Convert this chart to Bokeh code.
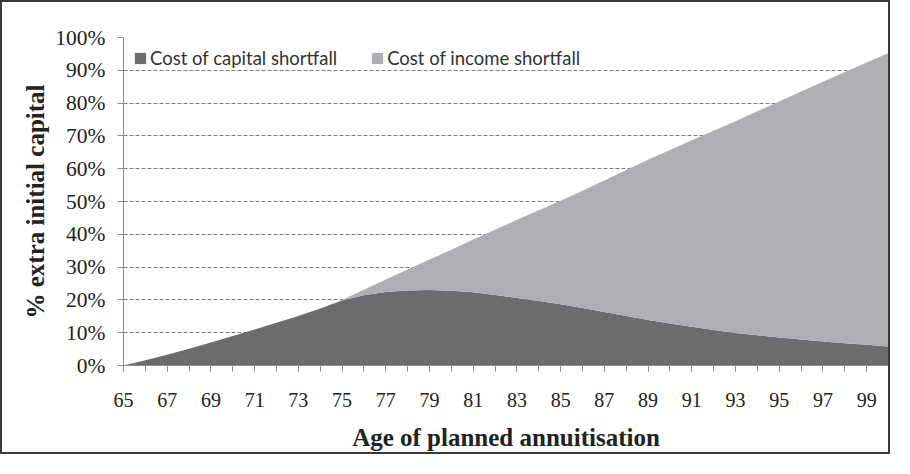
from bokeh.plotting import figure
from bokeh.models import FixedTicker, ColumnDataSource, Legend
from bokeh.embed import file_html
from bokeh.resources import INLINE

# ---- data ----
ages = list(range(65, 101))
capital = [0.0, 1.6, 3.3, 5.1, 7.0, 9.0, 11.0, 13.0, 15.1, 17.4,
           19.8, 21.4, 22.4, 22.9, 23.0, 22.8, 22.3, 21.5, 20.6, 19.7,
           18.7, 17.5, 16.3, 15.1, 13.9, 12.8, 11.8, 10.8, 9.9, 9.2,
           8.5, 7.9, 7.3, 6.8, 6.3, 5.8]
income = [0.0, 0.0, 0.0, 0.0, 0.0, 0.0, 0.0, 0.0, 0.0, 0.0,
          0.2, 1.7, 3.8, 6.4, 9.3, 12.5, 16.1, 19.9, 23.8, 27.6,
          31.5, 35.8, 40.1, 44.5, 48.8, 52.9, 56.9, 60.8, 64.6, 68.3,
          72.0, 75.6, 79.2, 82.7, 86.1, 89.5]
series_names = ["Cost of capital shortfall", "Cost of income shortfall"]
y_ticks = [0, 10, 20, 30, 40, 50, 60, 70, 80, 90, 100]
y_tick_labels = ["0%", "10%", "20%", "30%", "40%", "50%", "60%", "70%", "80%", "90%", "100%"]
x_label_ticks = list(range(65, 101, 2))
x_title = "Age of planned annuitisation"
y_title = "% extra initial capital"

DARK = "#6c6c6e"
LIGHT = "#aeafb2"
SERIF = "Liberation Serif"

source = ColumnDataSource(data=dict(age=ages, capital=capital, income=income))

p = figure(width=890, height=454, output_backend="svg", toolbar_location=None,
           x_range=(65, 100), y_range=(0, 100),
           min_border_left=121, min_border_right=4, min_border_top=35, min_border_bottom=91)
p.styles = {"border": "2px solid #3a3a3a"}
p.outline_line_color = None
p.background_fill_color = "white"
p.border_fill_color = "white"

rs = p.varea_stack(["capital", "income"], x="age", color=[DARK, LIGHT], source=source)

# axes
xa = p.xaxis[0]
xa.ticker = FixedTicker(ticks=x_label_ticks, minor_ticks=ages)
xa.axis_line_color = "#8c8c8c"
xa.major_tick_line_color = "#8c8c8c"
xa.minor_tick_line_color = "#8c8c8c"
xa.major_tick_out = 6
xa.major_tick_in = 0
xa.minor_tick_out = 6
xa.minor_tick_in = 0
xa.major_label_text_font = SERIF
xa.major_label_text_font_size = "20px"
xa.major_label_text_color = "#222222"
xa.major_label_standoff = 21
xa.axis_label = x_title
xa.axis_label_text_font = SERIF
xa.axis_label_text_font_style = "bold"
xa.axis_label_text_font_size = "25px"
xa.axis_label_text_color = "#222222"
xa.axis_label_standoff = 14

ya = p.yaxis[0]
ya.ticker = FixedTicker(ticks=y_ticks, minor_ticks=[])
ya.major_label_overrides = {t: l for t, l in zip(y_ticks, y_tick_labels)}
ya.axis_line_color = "#8c8c8c"
ya.major_tick_line_color = "#8c8c8c"
ya.major_tick_out = 6
ya.major_tick_in = 0
ya.minor_tick_line_color = None
ya.major_label_text_font = SERIF
ya.major_label_text_font_size = "21.5px"
ya.major_label_text_color = "#222222"
ya.major_label_standoff = 12
ya.axis_label = y_title
ya.axis_label_text_font = SERIF
ya.axis_label_text_font_style = "bold"
ya.axis_label_text_font_size = "25px"
ya.axis_label_text_color = "#222222"
ya.axis_label_standoff = 3

p.xgrid.grid_line_color = None
p.ygrid.grid_line_color = "#7f7f7f"
p.ygrid.grid_line_dash = "4 2"
p.ygrid.grid_line_width = 1

legend = Legend(items=[(series_names[0], [rs[0]]), (series_names[1], [rs[1]])],
                location="top_left", orientation="horizontal")
legend.margin = 10
legend.padding = 6
legend.spacing = 33
legend.glyph_width = 14
legend.glyph_height = 14
legend.label_standoff = 3
legend.label_height = 14
legend.label_text_font = "Lato"
legend.label_text_font_size = "18.5px"
legend.label_text_color = "#333333"
legend.border_line_color = None
legend.background_fill_alpha = 0
p.add_layout(legend, "center")

open("out.html", "w").write(file_html(p, INLINE))
